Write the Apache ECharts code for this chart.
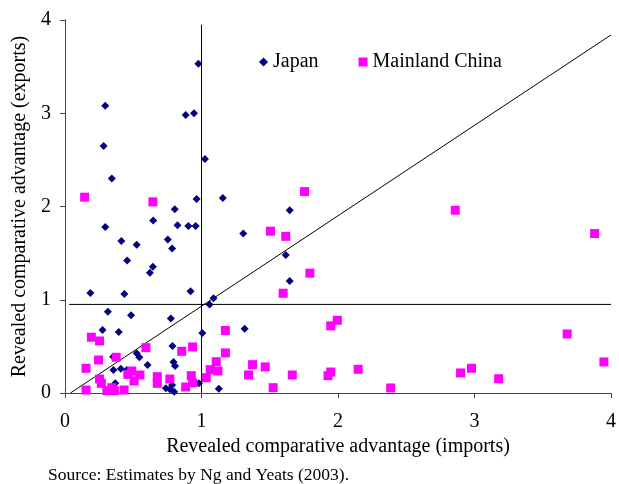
<!DOCTYPE html>
<html>
<head>
<meta charset="utf-8">
<script src="https://cdn.jsdelivr.net/npm/echarts@6/dist/echarts.min.js"></script>
<style>
  html, body { margin: 0; padding: 0; background: #fff; }
  #chart { width: 619px; height: 484px; }
</style>
</head>
<body>
<div id="chart"></div>
<script>
// revealed comparative advantage: [imports, exports]
var japanPoints = [
  [0.295, 3.08], [0.977, 3.53], [0.884, 2.98], [0.945, 3.00], [0.283, 2.65],
  [1.025, 2.51], [0.343, 2.30], [0.964, 2.08], [0.804, 1.97], [0.646, 1.85],
  [0.295, 1.78], [0.824, 1.80], [0.904, 1.79], [0.957, 1.79], [0.413, 1.63],
  [0.525, 1.59], [0.753, 1.645], [0.785, 1.55], [0.455, 1.42], [0.644, 1.355],
  [0.622, 1.29], [1.156, 2.09], [1.646, 1.96], [1.306, 1.71], [1.617, 1.48],
  [1.646, 1.20], [0.92, 1.09], [1.088, 1.016], [1.059, 0.95], [1.006, 0.644],
  [1.316, 0.69], [0.981, 0.104], [1.127, 0.046], [0.186, 1.073], [0.435, 1.062],
  [0.314, 0.872], [0.484, 0.833], [0.775, 0.80], [0.275, 0.676], [0.394, 0.654],
  [0.787, 0.504], [0.525, 0.426], [0.545, 0.383], [0.795, 0.333], [0.807, 0.29],
  [0.605, 0.30], [0.353, 0.39], [0.355, 0.247], [0.409, 0.26], [0.453, 0.247],
  [0.368, 0.104], [0.739, 0.05], [0.768, 0.04], [0.785, 0.086], [0.80, 0.014]
];
var chinaPoints = [
  [0.144, 2.10], [0.644, 2.05], [1.755, 2.16], [1.505, 1.735], [1.617, 1.68],
  [1.794, 1.285], [1.598, 1.07], [1.175, 0.67], [1.947, 0.72], [1.995, 0.78],
  [0.935, 0.494], [1.175, 0.43], [1.108, 0.336], [1.064, 0.25], [1.12, 0.236],
  [1.035, 0.164], [1.374, 0.304], [1.467, 0.28], [1.345, 0.193], [1.665, 0.193],
  [1.947, 0.225], [1.927, 0.186], [1.525, 0.057], [2.859, 1.96], [3.88, 1.71],
  [3.679, 0.633], [3.948, 0.333], [2.148, 0.254], [2.898, 0.215], [2.978, 0.265],
  [3.177, 0.153], [2.386, 0.054], [0.193, 0.598], [0.253, 0.558], [0.593, 0.486],
  [0.855, 0.447], [0.246, 0.354], [0.375, 0.383], [0.154, 0.265], [0.489, 0.236],
  [0.46, 0.20], [0.506, 0.129], [0.549, 0.193], [0.676, 0.175], [0.676, 0.104],
  [0.768, 0.15], [0.925, 0.186], [0.935, 0.11], [0.884, 0.064], [0.253, 0.15],
  [0.266, 0.104], [0.307, 0.025], [0.343, 0.057], [0.362, 0.025], [0.433, 0.032],
  [0.154, 0.032]
];
// reference lines
var verticalLine = [[1, 0], [1, 3.95]];
var horizontalLine = [[0.03, 0.95], [4, 0.95]];
var diagonalLine = [[0.04, 0], [4, 3.84]];

var serif = "'Liberation Serif', 'Times New Roman', serif";

var myChart = echarts.init(document.getElementById("chart"));

function refLine(data) {
  return {
    type: "line",
    data: data,
    symbol: "none",
    silent: true,
    lineStyle: { color: "#000", width: 1 },
    z: 1
  };
}

var option = {
  animation: false,
  backgroundColor: "#fff",
  grid: { left: 65, right: 5, top: 20, bottom: 91 },
  legend: {
    left: 254,
    top: 47,
    itemWidth: 9,
    itemHeight: 9,
    itemGap: 40,
    textStyle: { fontFamily: serif, fontSize: 20, color: "#000" },
    data: [
      { name: "Japan", icon: "diamond" },
      { name: "Mainland China", icon: "rect" }
    ]
  },
  xAxis: {
    type: "value",
    min: 0,
    max: 4,
    interval: 1,
    name: "Revealed comparative advantage (imports)",
    nameLocation: "middle",
    nameGap: 43,
    nameTextStyle: { fontFamily: serif, fontSize: 20, color: "#000" },
    splitLine: { show: false },
    axisLine: { lineStyle: { color: "#444" } },
    axisTick: { lineStyle: { color: "#444" }, length: 5 },
    axisLabel: { fontFamily: serif, fontSize: 20, color: "#000", margin: 19 }
  },
  yAxis: {
    type: "value",
    min: 0,
    max: 4,
    interval: 1,
    name: "Revealed comparative advantage (exports)",
    nameLocation: "middle",
    nameGap: 34,
    nameTextStyle: { fontFamily: serif, fontSize: 20, color: "#000" },
    splitLine: { show: false },
    axisLine: { show: true, lineStyle: { color: "#444" } },
    axisTick: { show: true, lineStyle: { color: "#444" }, length: 5 },
    axisLabel: { fontFamily: serif, fontSize: 20, color: "#000", margin: 14 }
  },
  series: [
    refLine(verticalLine),
    refLine(horizontalLine),
    refLine(diagonalLine),
    {
      name: "Japan",
      type: "scatter",
      symbol: "diamond",
      symbolSize: 8,
      itemStyle: { color: "#000080", opacity: 1 },
      data: japanPoints,
      z: 2
    },
    {
      name: "Mainland China",
      type: "scatter",
      symbol: "rect",
      symbolSize: 9,
      itemStyle: { color: "#ff00ff", opacity: 1 },
      data: chinaPoints,
      z: 3
    }
  ],
  graphic: [
    {
      type: "text",
      left: 48,
      top: 466,
      style: {
        text: "Source: Estimates by Ng and Yeats (2003).",
        font: "17.5px " + serif,
        fill: "#000"
      }
    }
  ]
};

myChart.setOption(option, true);
window.addEventListener("resize", function () {
  myChart.resize();
});
</script>
</body>
</html>
